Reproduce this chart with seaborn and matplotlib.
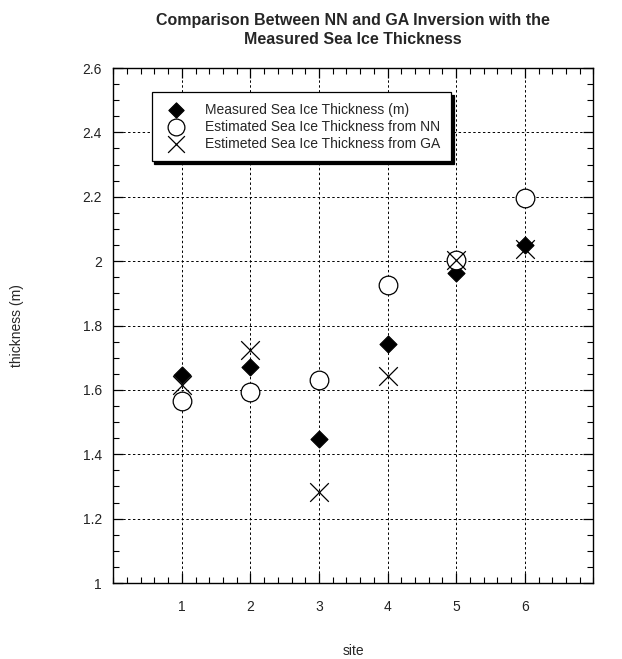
import pandas as pd
import matplotlib
matplotlib.use("Agg")
import matplotlib.pyplot as plt
import seaborn as sns
from matplotlib.ticker import MultipleLocator

sites = [1, 2, 3, 4, 5, 6]
measured = [1.645, 1.672, 1.448, 1.742, 1.962, 2.050]
nn_est = [1.566, 1.594, 1.631, 1.927, 2.005, 2.195]
ga_est = [1.615, 1.724, 1.282, 1.643, 2.005, 2.038]

y_ticks = [1, 1.2, 1.4, 1.6, 1.8, 2, 2.2, 2.4, 2.6]
y_tick_labels = ["1", "1.2", "1.4", "1.6", "1.8", "2", "2.2", "2.4", "2.6"]

labels = ["Measured Sea Ice Thickness (m)",
          "Estimated Sea Ice Thickness from NN",
          "Estimeted Sea Ice Thickness from GA"]

df = pd.DataFrame({"site": sites, "measured": measured, "nn": nn_est, "ga": ga_est})

sns.set_style("ticks")
plt.rcParams['font.family'] = ['Liberation Sans', 'DejaVu Sans']

fig = plt.figure(figsize=(6.22, 6.59), dpi=100)
ax = fig.add_axes([0.182, 0.1153, 0.772, 0.7815])

sns.scatterplot(data=df, x="site", y="measured", marker="D", s=75, color="black",
                edgecolor="black", linewidth=0.8, ax=ax, label=labels[0], zorder=3)
sns.scatterplot(data=df, x="site", y="nn", marker="o", s=180, facecolor="white",
                edgecolor="black", linewidth=0.9, ax=ax, label=labels[1], zorder=4)
sns.scatterplot(data=df, x="site", y="ga", marker="x", s=180, color="black",
                linewidth=0.9, ax=ax, label=labels[2], zorder=5)

ax.set_xlim(0, 7)
ax.set_ylim(1, 2.6)
ax.set_xticks(sites)
ax.set_yticks(y_ticks)
ax.set_yticklabels(y_tick_labels)
ax.xaxis.set_minor_locator(MultipleLocator(0.2))
ax.yaxis.set_minor_locator(MultipleLocator(0.05))
ax.tick_params(which="both", direction="in", top=True, right=True, color="black",
               labelsize=10, labelcolor="#222222")
ax.tick_params(which="major", length=7, width=0.9)
ax.tick_params(which="minor", length=4, width=0.8)
ax.tick_params(axis="x", pad=12)
ax.tick_params(axis="y", pad=8)
ax.grid(True, which="major", color="black", linestyle=(0, (2.5, 2.5)), linewidth=0.7)
for s in ax.spines.values():
    s.set_linewidth(1.0)
    s.set_color("black")

ax.set_xlabel("site", fontsize=10, labelpad=22)
ax.set_ylabel("thickness (m)", fontsize=10, labelpad=42)
ax.set_title("Comparison Between NN and GA Inversion with the\nMeasured Sea Ice Thickness",
             fontsize=11.5, fontweight="bold", pad=17, linespacing=1.4)

leg = ax.legend(loc="upper left", bbox_to_anchor=(0.08, 0.953), frameon=True, fancybox=False,
                shadow={"color": "black", "alpha": 1}, edgecolor="black", fontsize=10,
                handletextpad=1.1, labelspacing=0.22, borderpad=0.75, borderaxespad=0,
                markerscale=0.9)
leg.get_frame().set_linewidth(0.9)
leg.get_frame().set_alpha(1)

fig.savefig("out.png", dpi=100)
